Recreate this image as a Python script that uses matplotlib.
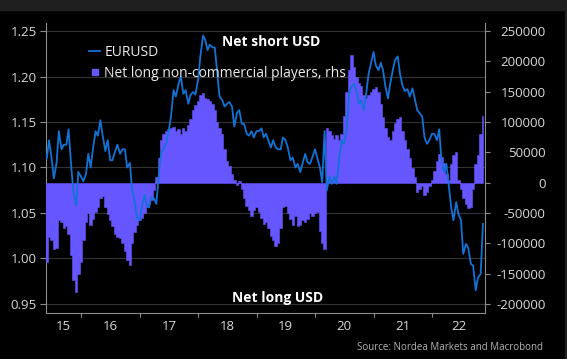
import numpy as np
import pandas as pd
import matplotlib
matplotlib.use('Agg')
import matplotlib.pyplot as plt
from matplotlib.lines import Line2D
from matplotlib.patches import Rectangle

plt.rcParams['font.family'] = ['Open Sans', 'DejaVu Sans']

# semi-monthly observations (1st and 15th), May 2015 - Nov 2022
dates = pd.date_range('2015-05-15', '2022-11-15', freq='SMS').to_pydatetime()

# EURUSD spot (lhs)
eurusd = [
    # 2015 (from mid-May)
    1.12, 1.11, 1.13, 1.11, 1.088, 1.105, 1.14, 1.12, 1.125, 1.125, 1.142, 1.10, 1.072, 1.058, 1.095,
    # 2016
    1.09, 1.085, 1.093, 1.115, 1.10, 1.12, 1.14, 1.135, 1.152, 1.135, 1.118, 1.13,
    1.108, 1.108, 1.118, 1.125, 1.115, 1.12, 1.12, 1.10, 1.105, 1.075, 1.063, 1.045,
    # 2017
    1.042, 1.057, 1.07, 1.058, 1.056, 1.068, 1.066, 1.06, 1.093, 1.115, 1.122, 1.126,
    1.14, 1.155, 1.185, 1.178, 1.192, 1.20, 1.181, 1.185, 1.17, 1.18, 1.183, 1.18,
    # 2018
    1.196, 1.222, 1.245, 1.24, 1.229, 1.235, 1.232, 1.232, 1.203, 1.178, 1.174, 1.167,
    1.17, 1.172, 1.167, 1.145, 1.16, 1.163, 1.148, 1.148, 1.137, 1.135, 1.14, 1.133,
    # 2019
    1.14, 1.14, 1.143, 1.133, 1.137, 1.13, 1.122, 1.13, 1.122, 1.12, 1.12, 1.133,
    1.13, 1.122, 1.108, 1.111, 1.10, 1.104, 1.095, 1.104, 1.115, 1.106, 1.104, 1.111,
    # 2020
    1.12, 1.111, 1.10, 1.084, 1.14, 1.075, 1.09, 1.082, 1.09, 1.082, 1.111, 1.13,
    1.126, 1.14, 1.18, 1.189, 1.192, 1.185, 1.17, 1.174, 1.163, 1.18, 1.203, 1.214,
    # 2021
    1.227, 1.212, 1.207, 1.215, 1.207, 1.19, 1.176, 1.192, 1.207, 1.218, 1.222, 1.203,
    1.19, 1.184, 1.186, 1.178, 1.187, 1.176, 1.163, 1.16, 1.156, 1.133, 1.126, 1.13,
    # 2022 (to mid-Nov)
    1.137, 1.137, 1.13, 1.142, 1.108, 1.095, 1.104, 1.082, 1.056, 1.042, 1.062, 1.049,
    1.042, 1.005, 1.016, 1.012, 0.994, 0.992, 0.965, 0.979, 0.983, 1.038,
]

# net long non-commercial positions, thousands of contracts (rhs)
net_k = [
    # 2015
    -140, -130, -90, -95, -110, -108, -62, -65, -75, -72, -85, -120, -160, -180, -150,
    # 2016
    -130, -95, -65, -50, -70, -60, -48, -40, -25, -22, -40, -52,
    -62, -72, -85, -90, -92, -100, -112, -128, -135, -100, -82, -70,
    # 2017
    -62, -58, -50, -40, -35, -28, -12, 10, 40, 70, 80, 85,
    88, 90, 92, 85, 88, 80, 90, 85, 95, 105, 120, 128,
    # 2018
    135, 145, 148, 140, 138, 135, 130, 120, 100, 90, 80, 55,
    35, 28, 15, 5, -3, 2, -10, -25, -38, -45, -55, -45,
    # 2019
    -40, -48, -58, -68, -65, -75, -88, -95, -105, -100, -75, -40,
    -38, -50, -60, -70, -55, -72, -70, -62, -65, -60, -50, -55,
    # 2020
    -50, -48, -80, -100, -110, 90, 85, 78, 72, 78, 70, 80,
    110, 150, 185, 210, 190, 175, 165, 160, 145, 140, 145, 150,
    # 2021
    155, 158, 150, 130, 108, 90, 75, 70, 85, 98, 105, 108,
    85, 70, 55, 40, 25, 10, -15, -10, -5, -20, -15, -5,
    # 2022
    5, 20, 35, 48, 42, 32, 15, 5, 30, 45, 50, 5,
    -10, -25, -35, -42, -40, -10, 30, 45, 80, 110,
]
net = np.array(net_k) * 1000

years = list(range(2015, 2023))
year_labels = ['15', '16', '17', '18', '19', '20', '21', '22']
left_ticks = [0.95, 1.00, 1.05, 1.10, 1.15, 1.20, 1.25]
right_ticks = list(range(-200000, 250001, 50000))

line_c = '#1273d6'
bar_c = '#6656ff'
spine_c = '#8c8c8c'
text_c = '#d9d9d9'

W, H = 567, 359
fig = plt.figure(figsize=(W / 100, H / 100), dpi=100, facecolor='black')
fig.patches.append(Rectangle((0, 1 - 10 / H), 1, 10 / H, transform=fig.transFigure,
                             color='#1f1f1f', zorder=0))
fig.patches.append(Rectangle((1 - 2 / W, 0), 2 / W, 1, transform=fig.transFigure,
                             color='#1f1f1f', zorder=0))

ax = fig.add_axes([46 / W, 1 - 313 / H, (485 - 46) / W, (313 - 23) / H])
ax.set_facecolor('black')
x0, x1 = pd.Timestamp('2015-05-27'), pd.Timestamp('2022-11-28')
ax.set_xlim(x0, x1)
ax.set_ylim(0.9401, 1.2588)
ax.grid(axis='y', color='#333333', lw=0.8)
ax.set_axisbelow(True)

# positioning as a solid stepped area on the right-hand scale
axb = ax.twinx()
axb.fill_between(dates, net, 0, step='mid', facecolor=bar_c, edgecolor=bar_c, linewidth=0.4)
axb.set_ylim(-214800, 263200)

# EURUSD line on top
axl = ax.twinx()
axl.plot(dates, eurusd, color=line_c, lw=1.3)
axl.set_ylim(ax.get_ylim())
axl.axis('off')

for s in ['top', 'right']:
    ax.spines[s].set_visible(False)
for s in ['left', 'bottom']:
    ax.spines[s].set_color(spine_c)
for s in ['top', 'left', 'bottom']:
    axb.spines[s].set_visible(False)
axb.spines['right'].set_color(spine_c)

ax.set_yticks(left_ticks)
ax.set_yticklabels(['%.2f' % v for v in left_ticks])
ax.tick_params(axis='y', length=4.3, pad=2.2, color=spine_c, labelcolor=text_c, labelsize=9.5)

axb.set_yticks(right_ticks)
axb.set_yticklabels([str(v) for v in right_ticks], ha='right')
axb.tick_params(axis='y', length=3.6, pad=40, color=spine_c, labelcolor=text_c, labelsize=9.5)

# year boundaries as ticks, labels centred in each visible year
bounds = [pd.Timestamp(f'{y}-01-01') for y in years[1:]]
ax.set_xticks(bounds)
ax.set_xticklabels([''] * len(bounds))
mids = []
for y in years:
    a = max(pd.Timestamp(f'{y}-01-01'), x0)
    b = min(pd.Timestamp(f'{y + 1}-01-01'), x1)
    mids.append(a + (b - a) / 2)
ax.set_xticks(mids, minor=True)
ax.set_xticklabels(year_labels, minor=True)
ax.tick_params(axis='x', which='major', length=3, color=spine_c)
ax.tick_params(axis='x', which='minor', length=0, pad=5, labelcolor=text_c, labelsize=9.5)

handles = [Line2D([], [], color=line_c, lw=1.3),
           Line2D([], [], marker='s', ls='none', color=bar_c, markersize=5)]
axl.legend(handles, ['EURUSD', 'Net long non-commercial players, rhs'],
           loc='upper left', bbox_to_anchor=(89 / W, 1 - 45 / H), bbox_transform=fig.transFigure,
           frameon=False, fontsize=10, labelcolor='#ececec', handlelength=0.8,
           handletextpad=0.3, labelspacing=0.42, borderaxespad=0, borderpad=0)

fig.text(271 / W, 1 - 42 / H, 'Net short USD', color='white', fontsize=10, fontweight='bold',
         ha='center', va='center')
fig.text(278 / W, 1 - 298 / H, 'Net long USD', color='white', fontsize=10, fontweight='bold',
         ha='center', va='center')
fig.text(543 / W, 1 - 347 / H, 'Source: Nordea Markets and Macrobond', color='#b3b3b3',
         fontsize=7, ha='right', va='center')

fig.savefig('out.png', dpi=100, facecolor='black')
